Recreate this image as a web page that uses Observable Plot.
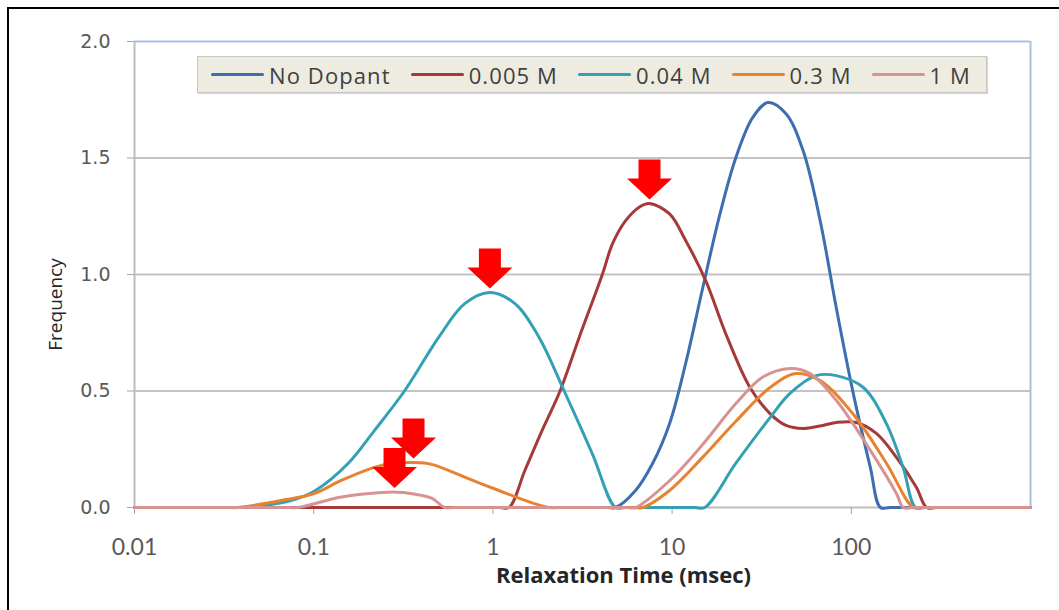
<!DOCTYPE html>
<html>
<head>
<meta charset="utf-8">
<script src="https://cdn.jsdelivr.net/npm/d3@7"></script>
<script src="https://cdn.jsdelivr.net/npm/@observablehq/plot@0.6"></script>
<style>
  html, body { margin: 0; padding: 0; background: #fff; overflow: hidden; }
  #wrap { position: relative; width: 1059px; height: 610px; }
  #frame { position: absolute; left: 7px; top: 7px; width: 1100px; height: 700px; border-left: 2px solid #000; border-top: 2px solid #000; pointer-events: none; }
  #legend { position: absolute; left: 197px; top: 56px; width: 790px; height: 37px; box-sizing: border-box; background: #eeece1; border: 1.5px solid #c6c6c6; box-shadow: 1px 1px 1px #dadada; display: flex; align-items: center; padding-left: 13px; font-family: "Open Sans", Lato, sans-serif; font-size: 22px; letter-spacing: 1.1px; color: #404040; white-space: nowrap; overflow: hidden; }
  .item { display: flex; align-items: center; flex-shrink: 0; margin-right: 20px; }
  .swatch { width: 53px; height: 3.5px; border-radius: 2px; margin-right: 5px; flex-shrink: 0; }
</style>
</head>
<body>
<div id="wrap"><div id="chart"></div><div id="legend"></div><div id="frame"></div></div>
<script>
// ---- data ----
const seriesNames = ["No Dopant", "0.005 M", "0.04 M", "0.3 M", "1 M"];
const seriesColors = ["#3d6eb0", "#a53a39", "#34a0b6", "#e8822e", "#d79392"];

const noDopantTime = [0.01, 4.25, 4.83, 6.25, 7.78, 9.69, 11.9, 14.8, 18.5, 22.7, 28.2, 34.3, 43.2, 53.8, 67.0, 82.4, 102.6, 127.7, 145.3, 165, 1000];
const noDopantFreq = [0, 0, 0, 0.073, 0.189, 0.361, 0.618, 0.94, 1.26, 1.502, 1.674, 1.738, 1.69, 1.532, 1.232, 0.858, 0.489, 0.172, 0, 0, 0];

const m005Time = [0.01, 1.08, 1.229, 1.51, 1.88, 2.37, 3.03, 4.08, 4.64, 5.49, 6.58, 7.48, 9.68, 11.9, 15.4, 19.9, 27.2, 35.2, 43.2, 53.8, 67.0, 82.4, 106.7, 138, 178.6, 231, 263, 300, 1000];
const m005Freq = [0, 0, 0, 0.16, 0.33, 0.50, 0.73, 1.00, 1.13, 1.23, 1.29, 1.305, 1.26, 1.146, 0.974, 0.747, 0.515, 0.403, 0.352, 0.339, 0.35, 0.365, 0.365, 0.318, 0.215, 0.086, 0, 0, 0];

const m04Time = [0.01, 0.033, 0.0378, 0.0528, 0.0748, 0.1007, 0.156, 0.218, 0.321, 0.498, 0.696, 0.962, 1.328, 1.81, 2.50, 3.59, 4.83, 5.5, 13.3, 15.2, 22.7, 35.2, 45.5, 63.7, 82.4, 116.7, 157, 195, 228, 260, 1000];
const m04Freq = [0, 0, 0, 0.009, 0.03, 0.07, 0.19, 0.33, 0.50, 0.73, 0.875, 0.923, 0.875, 0.73, 0.50, 0.23, 0, 0, 0, 0, 0.19, 0.386, 0.49, 0.566, 0.566, 0.515, 0.36, 0.17, 0, 0, 0];

const m3Time = [0.01, 0.033, 0.0378, 0.0658, 0.1007, 0.1426, 0.218, 0.2716, 0.3606, 0.455, 0.696, 1.08, 1.653, 2.06, 2.35, 6.0, 6.84, 9.68, 14.8, 22.7, 35.2, 49.2, 67.0, 102.6, 157, 222, 253, 1000];
const m3Freq = [0, 0, 0, 0.03, 0.06, 0.116, 0.172, 0.189, 0.193, 0.185, 0.13, 0.073, 0.02, 0, 0, 0, 0, 0.073, 0.215, 0.37, 0.515, 0.575, 0.545, 0.40, 0.19, 0, 0, 0];

const m1Time = [0.01, 0.072, 0.0818, 0.1426, 0.239, 0.2825, 0.321, 0.455, 0.538, 0.61, 5.5, 6.25, 9.68, 14.8, 22.7, 32.1, 45.5, 58.9, 82.4, 127.7, 178.6, 195, 222, 1000];
const m1Freq = [0, 0, 0, 0.045, 0.064, 0.066, 0.064, 0.04, 0, 0, 0, 0, 0.115, 0.27, 0.446, 0.56, 0.597, 0.575, 0.46, 0.245, 0.06, 0, 0, 0];

const xTicks = [0.01, 0.1, 1, 10, 100];
const xTickLabels = ["0.01", "0.1", "1", "10", "100"];
const yTicks = [0, 0.5, 1.0, 1.5, 2.0];
const yTickLabels = ["0.0", "0.5", "1.0", "1.5", "2.0"];

// peaks marked with red arrows: series and the largest time searched for its peak
const arrowSeries = ["0.04 M", "0.005 M", "0.3 M", "1 M"];
const arrowMaxTime = [1000, 1000, 3, 3];

// ---- build table ----
const times = [noDopantTime, m005Time, m04Time, m3Time, m1Time];
const freqs = [noDopantFreq, m005Freq, m04Freq, m3Freq, m1Freq];
const rows = [];
seriesNames.forEach((s, i) => times[i].forEach((t, j) => rows.push({series: s, t, f: freqs[i][j]})));

const arrows = arrowSeries.map((s, k) => {
  const pts = rows.filter(r => r.series === s && r.t <= arrowMaxTime[k]);
  return d3.greatest(pts, r => r.f);
});

const blockArrow = {
  draw(context) {
    context.moveTo(0, -4);
    context.lineTo(-22.5, -25);
    context.lineTo(-11, -25);
    context.lineTo(-11, -44);
    context.lineTo(11, -44);
    context.lineTo(11, -25);
    context.lineTo(22.5, -25);
    context.closePath();
  }
};

const chart = Plot.plot({
  width: 1059,
  height: 610,
  marginLeft: 134,
  marginRight: 29,
  marginTop: 41,
  marginBottom: 103,
  style: {background: "transparent", overflow: "visible"},
  x: {type: "log", domain: [0.01, 1000]},
  y: {domain: [0, 2]},
  color: {domain: seriesNames, range: seriesColors},
  marks: [
    Plot.ruleY(yTicks.filter(d => d > 0 && d < 2), {stroke: "#c3c3c3", strokeWidth: 2}),
    Plot.ruleY([2], {stroke: "#a9c1df", strokeWidth: 2}),
    Plot.ruleX([1000], {stroke: "#a9c1df", strokeWidth: 2}),
    Plot.ruleX([0.01], {stroke: "#bdbdbd", strokeWidth: 2}),
    Plot.ruleY([0], {stroke: "#bdbdbd", strokeWidth: 2}),
    Plot.axisY({ticks: yTicks, tickFormat: d => yTickLabels[yTicks.indexOf(d)], tickSize: 7, tickPadding: 17,
      stroke: "#a6a6a6", fill: "#595959", fontSize: 19, fontFamily: "DejaVu Sans", label: null}),
    Plot.axisX({ticks: xTicks, tickFormat: d => xTickLabels[xTicks.indexOf(d)], tickSize: 7, tickPadding: 24,
      stroke: "#a6a6a6", fill: "#595959", fontSize: 23, fontFamily: "Lato", label: null}),
    Plot.line(rows, {x: "t", y: "f", z: "series", stroke: "series", strokeWidth: 3, curve: "catmull-rom"}),
    Plot.dot(arrows, {x: "t", y: "f", symbol: blockArrow, fill: "#ff0000", stroke: "none", r: 10}),
    Plot.text(["Relaxation Time (msec)"], {text: d => d, frameAnchor: "bottom", textAnchor: "middle", lineAnchor: "middle",
      dx: 41, dy: 68, fontWeight: "bold", fontSize: 22, fontFamily: "Open Sans", fill: "#262626"}),
    Plot.text(["Frequency"], {text: d => d, frameAnchor: "left", textAnchor: "middle", lineAnchor: "middle",
      rotate: -90, dx: -79, dy: 30, fontSize: 19, fontFamily: "Open Sans", fill: "#262626"})
  ]
});
document.getElementById("chart").appendChild(chart);

// ---- legend ----
const legend = document.getElementById("legend");
seriesNames.forEach((s, i) => {
  const item = document.createElement("div");
  item.className = "item";
  const sw = document.createElement("span");
  sw.className = "swatch";
  sw.style.background = seriesColors[i];
  const lab = document.createElement("span");
  lab.textContent = s;
  item.appendChild(sw);
  item.appendChild(lab);
  legend.appendChild(item);
});
</script>
</body>
</html>
